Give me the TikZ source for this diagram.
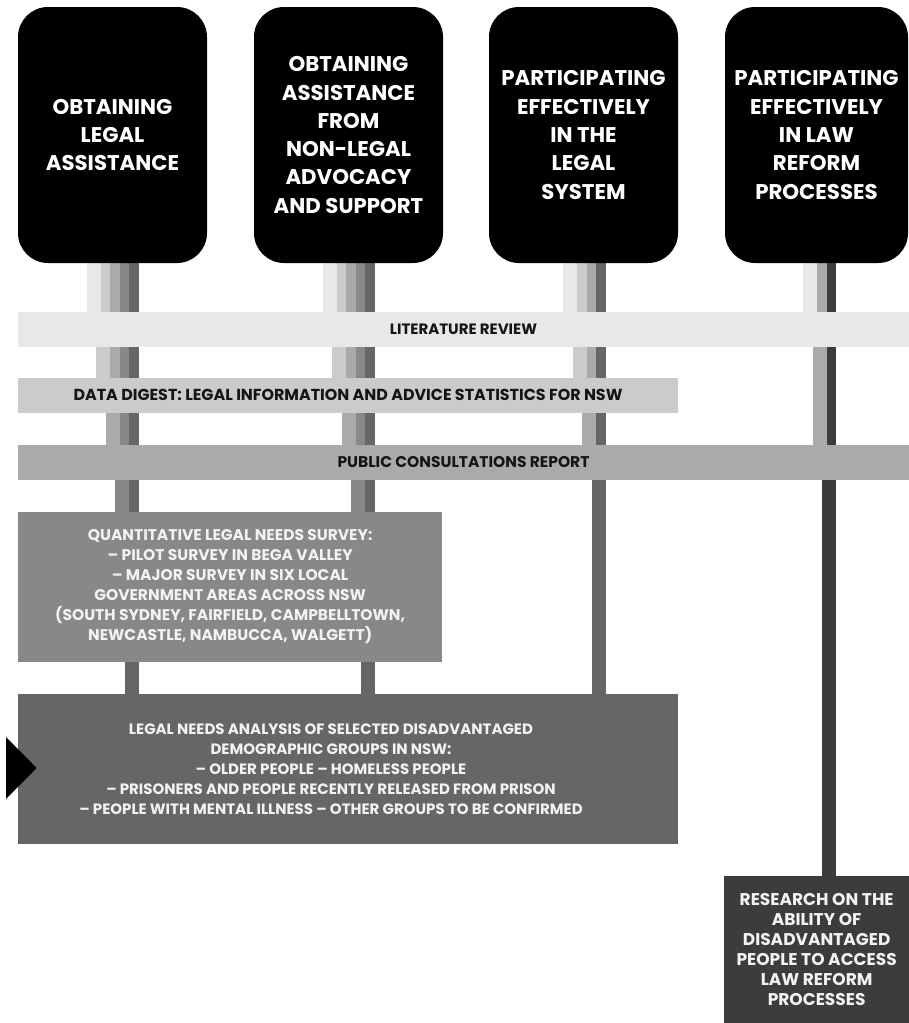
\documentclass[tikz,border=0pt]{standalone}
\usepackage{fontspec}
\setmainfont{Poppins}
\definecolor{gE}{HTML}{E8E8E8}
\definecolor{gC}{HTML}{CBCBCB}
\definecolor{gA}{HTML}{AAAAAA}
\definecolor{g8}{HTML}{888888}
\definecolor{g6}{HTML}{666666}
\definecolor{g3}{HTML}{3C3C3C}
\definecolor{txtdark}{HTML}{151515}
\definecolor{txtlight}{HTML}{F2F2F2}
\tikzset{
  topbox/.style={fill=black, text=white, rounded corners=30pt, minimum width=189pt, minimum height=256pt,
    inner sep=0pt, align=center, font=\bfseries\fontsize{21.3}{28.3}\selectfont},
  band/.style={inner sep=0pt, align=center, text=txtdark, font=\bfseries\fontsize{15}{18}\selectfont},
  bigbox/.style={inner sep=0pt, align=center, text=txtlight, font=\bfseries\fontsize{15.5}{20}\selectfont},
  barline/.style={line width=14pt, line cap=butt},
}
\begin{document}
\begin{tikzpicture}[x=1pt,y=-1pt]
\useasboundingbox (0,0) rectangle (909,1023);
\path (112.5,135) coordinate (c1) (348.5,135) coordinate (c2) (583.5,135) coordinate (c3) (816.5,135) coordinate (c4);
\path (112.5,263) coordinate (s1) (348.5,263) coordinate (s2) (583.5,263) coordinate (s3) (816.5,263) coordinate (s4);
\path (463.5,329.5) coordinate (litc) (348,395.25) coordinate (datc) (463.5,462) coordinate (pubc)
      (230.15,587) coordinate (quac) (348,769) coordinate (legc) (816.65,949.5) coordinate (resc);
% bars, darkest first
\foreach \s in {s1, s2}{
  \draw[barline, g6] ([xshift=19.25]\s) -- ([xshift=19.25]\s |- legc);
  \draw[barline, g8] ([xshift=9.75]\s) -- ([xshift=9.75]\s |- quac);
  \draw[barline, gA] ([xshift=0.25]\s) -- ([xshift=0.25]\s |- pubc);
  \draw[barline, gC] ([xshift=-9.25]\s) -- ([xshift=-9.25]\s |- datc);
  \draw[barline, gE] ([xshift=-18.75]\s) -- ([xshift=-18.75]\s |- litc);
}
\draw[barline, g6] ([xshift=15]s3) -- ([xshift=15]s3 |- legc);
\draw[barline, gA] ([xshift=5.5]s3) -- ([xshift=5.5]s3 |- pubc);
\draw[barline, gC] ([xshift=-4]s3) -- ([xshift=-4]s3 |- datc);
\draw[barline, gE] ([xshift=-13.5]s3) -- ([xshift=-13.5]s3 |- litc);
\draw[barline, g3] ([xshift=12.8]s4) -- ([xshift=12.8]s4 |- resc);
\draw[barline, gA] ([xshift=3.3]s4) -- ([xshift=3.3]s4 |- pubc);
\draw[barline, gE] ([xshift=-6.2]s4) -- ([xshift=-6.2]s4 |- litc);
% bands
\node[band, fill=gE, minimum width=891pt, minimum height=35pt] (lit) at (litc) {LITERATURE REVIEW};
\node[band, fill=gC, minimum width=660pt, minimum height=34.5pt, font=\bfseries\fontsize{15.9}{18}\selectfont] (dat) at (datc) {DATA DIGEST: LEGAL INFORMATION AND ADVICE STATISTICS FOR NSW};
\node[band, fill=gA, minimum width=891pt, minimum height=35pt, font=\bfseries\fontsize{15.5}{18}\selectfont] (pub) at (pubc) {PUBLIC CONSULTATIONS REPORT};
\node[bigbox, fill=g8, minimum width=424.3pt, minimum height=150pt] (qua) at (quac)
  {QUANTITATIVE LEGAL NEEDS SURVEY:\\ – PILOT SURVEY IN BEGA VALLEY\\ – MAJOR SURVEY IN SIX LOCAL\\ GOVERNMENT AREAS ACROSS NSW\\ (SOUTH SYDNEY, FAIRFIELD, CAMPBELLTOWN,\\ NEWCASTLE, NAMBUCCA, WALGETT)};
\node[fill=g6, minimum width=660pt, minimum height=150pt, inner sep=0pt] (leg) at (legc) {};
\node[bigbox, font=\bfseries\fontsize{15}{20}\selectfont] (legtext) at ([xshift=-17]leg.center)
  {LEGAL NEEDS ANALYSIS OF SELECTED DISADVANTAGED\\ DEMOGRAPHIC GROUPS IN NSW:\\ – OLDER PEOPLE – HOMELESS PEOPLE\\ – PRISONERS AND PEOPLE RECENTLY RELEASED FROM PRISON\\ – PEOPLE WITH MENTAL ILLNESS – OTHER GROUPS TO BE CONFIRMED};
\node[bigbox, fill=g3, minimum width=184.7pt, minimum height=147pt, font=\bfseries\fontsize{17}{20}\selectfont] (res) at (resc)
  {RESEARCH ON THE\\ ABILITY OF\\ DISADVANTAGED\\ PEOPLE TO ACCESS\\ LAW REFORM\\ PROCESSES};
% top boxes
\node[topbox] (b1) at (c1) {OBTAINING\\ LEGAL\\ ASSISTANCE};
\node[topbox] (b2) at (c2) {OBTAINING\\ ASSISTANCE\\ FROM\\ NON-LEGAL\\ ADVOCACY\\ AND SUPPORT};
\node[topbox] (b3) at (c3) {PARTICIPATING\\ EFFECTIVELY\\ IN THE\\ LEGAL\\ SYSTEM};
\node[topbox, minimum width=183pt] (b4) at (c4) {PARTICIPATING\\ EFFECTIVELY\\ IN LAW\\ REFORM\\ PROCESSES};
% marker triangle
\fill[black] (6,737) -- (36.7,768) -- (6,799) -- cycle;
\end{tikzpicture}
\end{document}
